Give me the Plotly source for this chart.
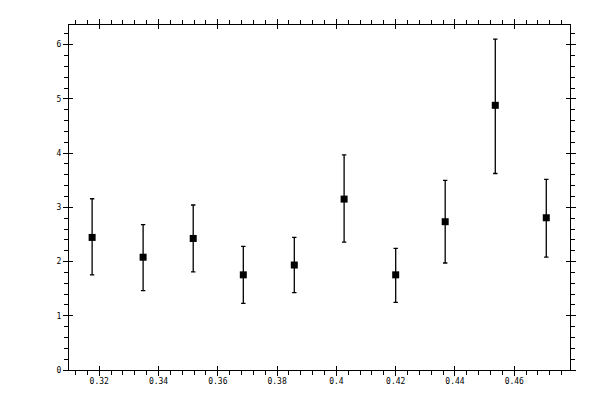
import plotly.graph_objects as go

# values
x_vals = [0.3176, 0.3348, 0.3517, 0.3686, 0.3858, 0.4026, 0.4200, 0.4367, 0.4536, 0.4708]
y_vals = [2.445, 2.08, 2.426, 1.755, 1.936, 3.152, 1.755, 2.735, 4.882, 2.808]
y_upper = [3.158, 2.68, 3.043, 2.281, 2.445, 3.969, 2.245, 3.497, 6.104, 3.515]
y_lower = [1.755, 1.465, 1.809, 1.228, 1.428, 2.359, 1.247, 1.973, 3.624, 2.082]

err_plus = [u - y for u, y in zip(y_upper, y_vals)]
err_minus = [y - l for l, y in zip(y_lower, y_vals)]

x_range = [0.3098, 0.4788]
y_range = [0, 6.363]

fig = go.Figure()
fig.add_trace(go.Scatter(
    x=x_vals, y=y_vals, mode="markers",
    marker=dict(symbol="square", size=7, color="black"),
    error_y=dict(type="data", symmetric=False, array=err_plus, arrayminus=err_minus,
                 color="black", thickness=1.3, width=2.2),
    showlegend=False,
))
# invisible trace just so the overlay axes exist
fig.add_trace(go.Scatter(x=[x_range[0]], y=[y_range[0]], xaxis="x2", yaxis="y2",
                         mode="markers", marker=dict(opacity=0), showlegend=False, hoverinfo="skip"))

font = dict(family="DejaVu Sans Mono", size=8, color="black")
common = dict(showgrid=False, zeroline=False, showline=True, linecolor="black", linewidth=1.3,
              mirror="ticks", ticks="outside", ticklen=5, tickwidth=1.3, tickcolor="black",
              tickfont=font)

# page body has an 8px margin, so margins are shifted to compensate
fig.update_layout(
    width=600, height=400,
    margin=dict(l=61, r=38, t=11, b=38),
    paper_bgcolor="white", plot_bgcolor="white",
    xaxis=dict(range=x_range, dtick=0.02, tick0=0, ticklabelstandoff=-2,
               minor=dict(dtick=0.004, tick0=0, ticks="outside", ticklen=3.5, tickwidth=1.3, tickcolor="black"),
               **common),
    yaxis=dict(range=y_range, dtick=1, tick0=0,
               minor=dict(dtick=0.2, tick0=0, ticks="outside", ticklen=3.5, tickwidth=1.3, tickcolor="black"),
               **common),
    # inner half of the major ticks, so they cross the frame
    xaxis2=dict(range=x_range, dtick=0.02, tick0=0, overlaying="x", showticklabels=False,
                showgrid=False, zeroline=False, showline=False, mirror="ticks",
                ticks="inside", ticklen=4, tickwidth=1.3, tickcolor="black"),
    yaxis2=dict(range=y_range, dtick=1, tick0=0, overlaying="y", showticklabels=False,
                showgrid=False, zeroline=False, showline=False, mirror="ticks",
                ticks="inside", ticklen=4, tickwidth=1.3, tickcolor="black"),
)

fig.write_html("out.html")
